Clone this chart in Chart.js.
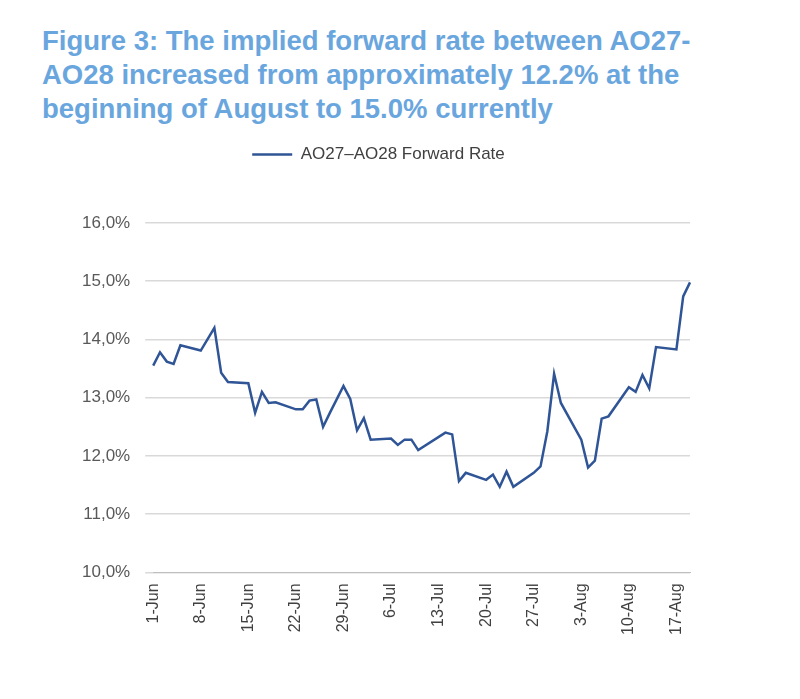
<!DOCTYPE html><html><head><meta charset="utf-8">
<script src="https://cdn.jsdelivr.net/npm/chart.js@4"></script>
<style>
body{margin:0;background:#fff;width:800px;height:699px;position:relative;font-family:"Liberation Sans",Arial,sans-serif}
#t{position:absolute;left:42px;top:24px;width:760px;color:#6AA6DE;font-weight:bold;font-size:27.5px;line-height:34px;white-space:nowrap}
#c{position:absolute;left:67px;top:146px;width:653px;height:492px}
</style></head><body>
<div id="t">Figure 3: The implied forward rate between AO27-<br>AO28 increased from approximately 12.2% at the<br>beginning of August to 15.0% currently</div>
<div id="c"><canvas id="cv"></canvas></div>
<script>
const months=[["Jun",30],["Jul",31],["Aug",19]];
const categories=[];
for(const [m,n] of months){for(let d=1;d<=n;d++)categories.push(d+"-"+m);}
const known={0:13.55,1:13.78,2:13.62,3:13.58,4:13.9,7:13.81,9:14.2,10:13.43,11:13.27,14:13.25,15:12.74,16:13.1,17:12.91,18:12.92,21:12.8,22:12.8,23:12.95,24:12.97,25:12.5,26:12.74,28:13.2,29:12.98,30:12.44,31:12.65,32:12.28,35:12.3,36:12.19,37:12.28,38:12.28,39:12.1,43:12.4,44:12.37,45:11.57,46:11.71,49:11.59,50:11.68,51:11.47,52:11.73,53:11.47,56:11.71,57:11.82,58:12.42,59:13.41,60:12.91,63:12.28,64:11.8,65:11.92,66:12.64,67:12.68,70:13.18,71:13.1,72:13.39,73:13.16,74:13.87,77:13.83,78:14.74,79:14.98};
const forwardRate=categories.map((_,i)=>i in known?known[i]:null);
new Chart(document.getElementById('cv'),{type:'line',
data:{labels:categories,datasets:[{label:'AO27\u2013AO28 Forward Rate',data:forwardRate,borderColor:'#2F5597',borderWidth:2.5,pointRadius:0,spanGaps:true,tension:0}]},
options:{responsive:true,maintainAspectRatio:false,animation:false,
layout:{padding:{right:30,top:0}},
plugins:{legend:{labels:{boxWidth:40,boxHeight:0,color:'#404040',font:{size:17,family:'Liberation Sans'},padding:0},onClick:null},tooltip:{enabled:false}},
scales:{x:{offset:false,grid:{display:false},border:{color:'#bfbfbf'},
ticks:{autoSkip:false,maxRotation:90,minRotation:90,color:'#404040',font:{size:16,family:'Liberation Sans'},callback:function(v,i){return i%7===0?categories[i]:null;}}},
y:{min:10,max:16,border:{display:false},grid:{color:'#d9d9d9',lineWidth:1.5},
ticks:{stepSize:1,padding:15,color:'#595959',font:{size:17,family:'Liberation Sans'},callback:v=>v.toFixed(1).replace('.',',')+'%'}}}},
plugins:[{id:'legendGap',beforeInit(c){const f=c.legend.fit;c.legend.fit=function(){f.call(this);this.height+=50;};}}]});
</script></body></html>
